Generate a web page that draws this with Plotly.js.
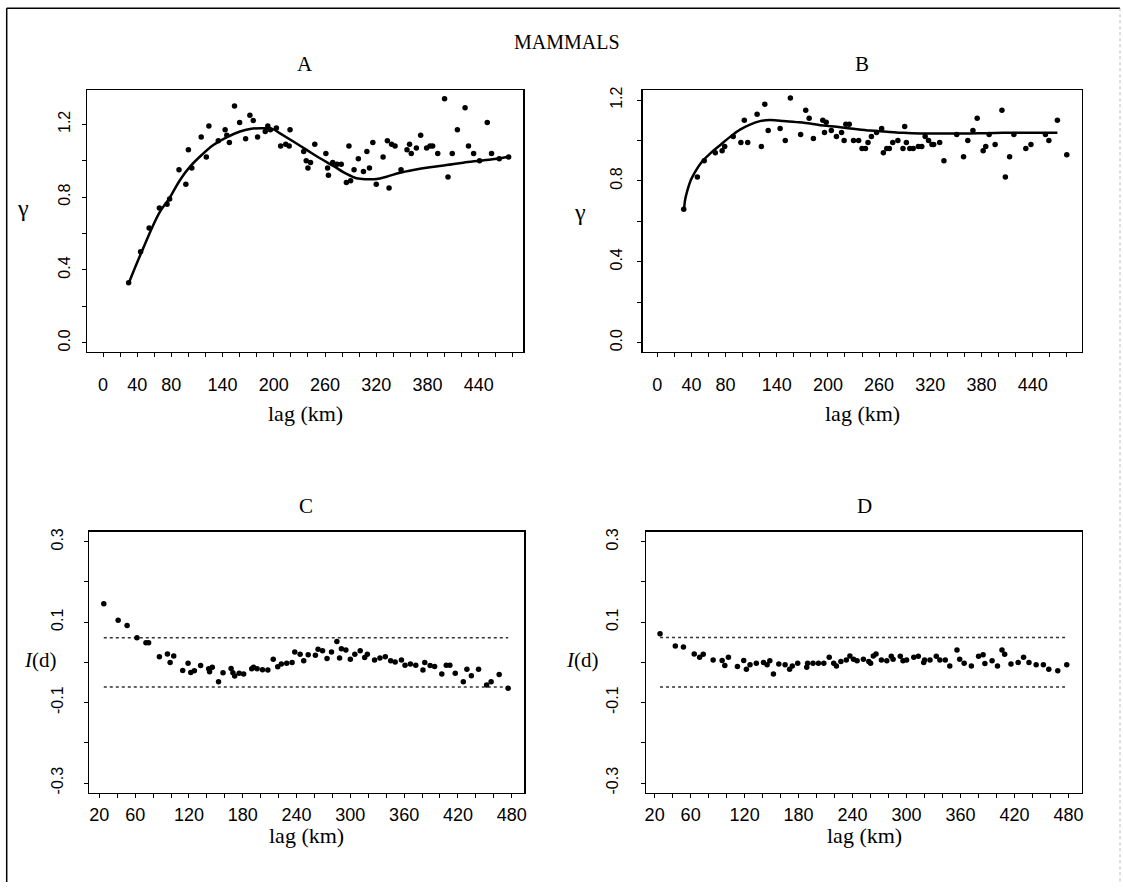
<!DOCTYPE html>
<html>
<head>
<meta charset="utf-8">
<script src="https://cdn.plot.ly/plotly-3.0.1.min.js"></script>
<style>html,body{margin:0;padding:0;background:#fff;}#chart{width:1123px;height:890px;}</style>
</head>
<body>
<div id="chart"></div>
<script>
// ---------- Panel A: semivariogram (observed) ----------
const A_lag = [30,44,54,66,75,78,89,97,100,104,115,121,124,135,143,145,148,154,160,167,172,176,181,190,193,196,203,208,214,218,219,235,238,240,243,248,261,263,264,269,274,279,285,288,290,294,299,305,309,312,316,320,328,333,335,338,342,349,356,359,361,367,372,379,383,386,392,400,404,409,415,424,428,434,441,450,455,464,475];
const A_gamma = [0.33,0.50,0.63,0.74,0.76,0.79,0.95,0.87,1.06,0.96,1.13,1.02,1.19,1.11,1.17,1.14,1.10,1.30,1.21,1.12,1.25,1.22,1.13,1.16,1.19,1.17,1.18,1.08,1.09,1.08,1.17,1.05,1.00,0.96,0.99,1.09,1.04,0.96,0.92,0.99,0.98,0.98,0.88,1.08,0.89,0.95,1.01,0.94,1.05,0.96,1.10,0.87,1.02,1.11,0.85,1.09,1.08,0.95,1.06,1.09,1.04,1.07,1.14,1.07,1.08,1.08,1.04,1.34,0.91,1.04,1.17,1.29,1.08,1.04,1.00,1.21,1.04,1.01,1.02];
const A_fit_lag = [30,44.5,65.6,77.7,90.2,101.9,115.5,129.2,144.8,160.4,172.1,187.7,199.5,207.3,222.9,238.5,254.1,269.7,285.3,297,308.7,320.5,332.2,347.8,363.4,382.9,402.4,421.9,441.5,461,474.7];
const A_fit_gamma = [0.326,0.491,0.711,0.793,0.894,0.967,1.031,1.086,1.128,1.160,1.174,1.178,1.172,1.150,1.105,1.059,1.013,0.971,0.927,0.903,0.898,0.899,0.912,0.934,0.949,0.964,0.976,0.989,1.000,1.011,1.022];

// ---------- Panel B: semivariogram (residuals) ----------
const B_lag = [31,47,55,68,76,79,89,98,102,106,117,122,126,130,144,150,156,168,174,178,183,194,196,198,204,210,216,219,221,225,230,236,240,244,247,251,257,263,265,269,272,276,282,288,290,292,296,300,306,310,314,318,322,324,331,336,351,359,364,370,375,382,385,389,396,404,408,413,418,432,438,455,459,469,480];
const B_gamma = [0.66,0.82,0.90,0.94,0.95,0.97,1.02,0.99,1.10,0.99,1.13,0.97,1.18,1.05,1.06,1.00,1.21,1.03,1.15,1.11,1.01,1.10,1.04,1.09,1.05,1.02,1.04,1.00,1.08,1.08,1.00,1.00,0.96,0.96,0.99,1.02,1.04,1.06,0.94,0.96,0.96,0.99,1.00,0.96,1.07,0.99,0.96,0.96,0.97,0.97,1.02,1.00,0.98,0.98,0.99,0.90,1.03,0.92,1.00,1.05,1.11,0.95,0.97,1.03,0.98,1.15,0.82,0.92,1.03,0.96,0.98,1.03,1.00,1.10,0.93];
const B_fit_lag = [31.3,32.5,35.3,39.2,44.2,52.1,61.8,73.6,85.3,97,108.7,120.4,132.2,147.8,163.4,179.1,194.7,210.3,229.9,249.4,268.9,288.5,308,327.6,347.1,366.6,386.2,405.7,425.2,444.8,469];
const B_fit_gamma = [0.657,0.704,0.753,0.803,0.844,0.894,0.935,0.977,1.018,1.054,1.079,1.096,1.101,1.097,1.091,1.084,1.074,1.068,1.058,1.049,1.044,1.038,1.035,1.035,1.035,1.035,1.036,1.038,1.038,1.038,1.038];

// ---------- Panel C: Moran's I correlogram (observed) ----------
const C_lag = [25,41,51,62,72,75,87,96,99,103,113,119,122,126,133,142,143,146,153,158,167,169,171,176,181,190,192,196,202,208,214,219,223,229,235,238,244,248,253,261,264,269,274,279,285,288,290,295,300,305,311,316,319,327,333,339,345,350,357,361,367,373,381,383,389,394,402,407,411,417,426,430,435,443,452,457,466,476];
const C_I = [0.146,0.105,0.092,0.061,0.049,0.049,0.014,0.021,0.000,0.016,-0.020,-0.002,-0.025,-0.021,-0.008,-0.016,-0.023,-0.012,-0.048,-0.026,-0.015,-0.026,-0.034,-0.027,-0.029,-0.016,-0.012,-0.016,-0.018,-0.019,0.008,-0.011,-0.004,-0.002,0.000,0.026,0.020,0.004,0.019,0.018,0.033,0.029,0.010,0.026,0.052,0.011,0.034,0.031,0.008,0.020,0.029,0.012,0.020,0.006,0.011,0.014,0.004,0.001,0.006,-0.007,-0.004,-0.007,-0.019,0.000,-0.008,-0.010,-0.029,-0.007,-0.007,-0.027,-0.048,-0.017,-0.033,-0.017,-0.056,-0.048,-0.030,-0.064];
const C_bound_lag = [25,476];
const C_upper = [0.061,0.061];
const C_lower = [-0.061,-0.061];

// ---------- Panel D: Moran's I correlogram (residuals) ----------
const D_lag = [26,43,52,64,70,74,85,95,98,102,112,119,122,126,133,141,145,148,152,158,165,170,173,179,189,190,196,202,208,214,219,222,227,233,237,241,245,252,258,260,263,266,272,278,283,285,293,296,300,308,313,319,320,326,333,337,343,348,356,359,364,372,380,385,387,395,401,406,409,416,424,430,436,444,452,458,468,478];
const D_I = [0.071,0.041,0.038,0.021,0.013,0.020,0.006,0.005,-0.008,0.013,-0.010,0.005,-0.017,-0.006,-0.002,0.000,-0.006,0.004,-0.029,-0.004,-0.006,-0.017,-0.009,-0.002,-0.012,-0.002,-0.002,-0.002,-0.002,0.013,-0.002,-0.009,0.002,0.006,0.016,0.008,0.004,0.008,0.002,-0.002,0.016,0.021,0.006,0.004,0.015,0.008,0.015,0.004,0.006,0.013,0.015,0.000,0.006,0.006,0.015,0.006,0.006,-0.009,0.031,0.008,-0.002,-0.009,0.015,0.019,-0.003,0.004,-0.009,0.031,0.020,-0.004,0.000,0.013,0.000,-0.006,-0.006,-0.017,-0.021,-0.006];
const D_bound_lag = [26,478];
const D_upper = [0.062,0.062];
const D_lower = [-0.061,-0.061];

// ---------- Tick labels ----------
const AB_xticks = [0,40,80,140,200,260,320,380,440];
const CD_xticks = [20,60,120,180,240,300,360,420,480];
const AB_yticks = [0,0.4,0.8,1.2];
const AB_ylabels = ["0.0","0.4","0.8","1.2"];
const CD_yticks = [-0.3,-0.1,0.1,0.3];
const CD_ylabels = ["-0.3","-0.1","0.1","0.3"];

const W = 1123, H = 890;
const px = v => v / W;
const py = v => 1 - v / H;

const markerStyle = {color:'black', size:5.5, symbol:'circle'};
const traces = [
  {x:A_lag, y:A_gamma, xaxis:'x', yaxis:'y', mode:'markers', marker:markerStyle},
  {x:A_fit_lag, y:A_fit_gamma, xaxis:'x', yaxis:'y', mode:'lines', line:{color:'black', width:2.5, shape:'spline'}},
  {x:B_lag, y:B_gamma, xaxis:'x2', yaxis:'y2', mode:'markers', marker:markerStyle},
  {x:B_fit_lag, y:B_fit_gamma, xaxis:'x2', yaxis:'y2', mode:'lines', line:{color:'black', width:2.5, shape:'spline'}},
  {x:C_bound_lag, y:C_upper, xaxis:'x3', yaxis:'y3', mode:'lines', line:{color:'#333', width:1.5, dash:'dot'}},
  {x:C_bound_lag, y:C_lower, xaxis:'x3', yaxis:'y3', mode:'lines', line:{color:'#333', width:1.5, dash:'dot'}},
  {x:C_lag, y:C_I, xaxis:'x3', yaxis:'y3', mode:'markers', marker:markerStyle},
  {x:D_bound_lag, y:D_upper, xaxis:'x4', yaxis:'y4', mode:'lines', line:{color:'#333', width:1.5, dash:'dot'}},
  {x:D_bound_lag, y:D_lower, xaxis:'x4', yaxis:'y4', mode:'lines', line:{color:'#333', width:1.5, dash:'dot'}},
  {x:D_lag, y:D_I, xaxis:'x4', yaxis:'y4', mode:'markers', marker:markerStyle}
];

function xax(domain, range, tickvals, anchor, standoff) {
  return {
    domain, range, anchor,
    tickmode:'array', tickvals, ticktext: tickvals.map(String),
    ticks:'outside', ticklen:4, tickwidth:1, tickcolor:'black',
    showline:true, mirror:true, linecolor:'black', linewidth:1.5,
    showgrid:false, zeroline:false,
    minor:{ticks:'outside', ticklen:4, tickwidth:1, tickcolor:'black', dtick:20, tick0:0, showgrid:false},
    tickfont:{family:'Liberation Sans, Arial, sans-serif', size:18, color:'black'},
    ticklabelstandoff: standoff
  };
}
function yax(domain, range, tickvals, ticktext, anchor, dtick, standoff) {
  return {
    domain, range, anchor,
    tickmode:'array', tickvals, ticktext,
    ticks:'outside', ticklen:4, tickwidth:1, tickcolor:'black',
    showline:true, mirror:true, linecolor:'black', linewidth:1.5,
    showgrid:false, zeroline:false, tickangle:-90,
    minor:{ticks:'outside', ticklen:4, tickwidth:1, tickcolor:'black', dtick:dtick, tick0:0, showgrid:false},
    tickfont:{family:'Liberation Sans, Arial, sans-serif', size:16, color:'black'},
    ticklabelstandoff: standoff
  };
}

const serif = 'Liberation Serif, Times New Roman, serif';
function ann(text, x, y, size) {
  return {text, x:px(x), y:py(y), xref:'paper', yref:'paper', showarrow:false,
          xanchor:'center', yanchor:'middle', font:{family:serif, size:size||21, color:'black'}};
}

const layout = {
  width:W, height:H, margin:{l:0, r:0, t:0, b:0},
  paper_bgcolor:'white', plot_bgcolor:'white', showlegend:false,
  xaxis: xax([px(87.3), px(523.3)], [-18.4, 492.2], AB_xticks, 'y', 12),
  yaxis: yax([py(351.7), py(90)], [-0.049, 1.388], AB_yticks, AB_ylabels, 'x', 0.2, 5),
  xaxis2: xax([px(642.7), px(1081.7)], [-17.1, 497.5], AB_xticks, 'y2', 12),
  yaxis2: yax([py(351.7), py(90)], [-0.045, 1.25], AB_yticks, AB_ylabels, 'x2', 0.2, 9),
  xaxis3: xax([px(89), px(524)], [8.5, 493.7], CD_xticks, 'y3', 1),
  yaxis3: yax([py(792.7), py(531.7)], [-0.324, 0.325], CD_yticks, CD_ylabels, 'x3', 0.1, 14),
  xaxis4: xax([px(646), px(1081.7)], [10.4, 494.6], CD_xticks, 'x4'.replace('x','y'), 1),
  yaxis4: yax([py(792.7), py(531.7)], [-0.324, 0.325], CD_yticks, CD_ylabels, 'x4', 0.1, 16),
  annotations: [
    ann('MAMMALS', 567, 42, 20),
    ann('A', 305, 64), ann('B', 862, 64),
    ann('C', 306, 506), ann('D', 864, 506),
    ann('lag (km)', 305, 413, 22), ann('lag (km)', 862, 413, 22),
    ann('lag (km)', 306, 835, 22), ann('lag (km)', 864, 835, 22),
    ann('γ', 23, 208, 24), ann('γ', 580, 212, 24),
    ann('<i>I</i>(d)', 40, 660), ann('<i>I</i>(d)', 582, 660)
  ],
  shapes: [
    {type:'line', xref:'paper', yref:'paper', x0:px(6.7), x1:px(6.7), y0:py(8.3), y1:py(882), line:{color:'black', width:1.5}},
    {type:'line', xref:'paper', yref:'paper', x0:px(6.7), x1:px(1120), y0:py(8.3), y1:py(8.3), line:{color:'black', width:1.5}},
    {type:'line', xref:'paper', yref:'paper', x0:px(1120), x1:px(1120), y0:py(8.3), y1:py(882), line:{color:'#bbb', width:1, dash:'dot'}}
  ]
};

Plotly.newPlot('chart', traces, layout, {displayModeBar:false, staticPlot:true});
</script>
</body>
</html>
